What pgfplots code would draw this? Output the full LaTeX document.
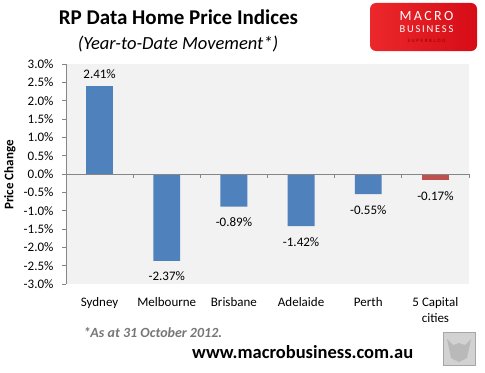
\documentclass[border=0pt]{standalone}
\usepackage{pgfplots}
\pgfplotsset{compat=1.18}
\usepackage{fontspec}
\setmainfont{Carlito}
\definecolor{barblue}{RGB}{79,129,189}
\definecolor{barred}{RGB}{192,80,77}
\definecolor{plotbg}{RGB}{242,242,242}
\definecolor{axgray}{RGB}{134,134,134}
\definecolor{notegray}{RGB}{118,118,118}
\definecolor{logoL}{RGB}{236,40,44}
\definecolor{logoR}{RGB}{214,12,22}
\begin{document}
\begin{tikzpicture}[x=1bp,y=1bp]
\path[use as bounding box] (0,0) rectangle (485,372);
\begin{axis}[
  at={(66bp,88bp)}, anchor=south west,
  scale only axis, width=403bp, height=220bp,
  xmin=-0.5, xmax=5.5, ymin=-3, ymax=3,
  axis background/.style={fill=plotbg},
  axis lines*=left,
  x axis line style={draw=none},
  y axis line style={draw=axgray, line width=0.8pt},
  xtick={0,...,5},
  xticklabels={Sydney,Melbourne,Brisbane,Adelaide,Perth,{5 Capital\\cities}},
  xtick style={draw=none},
  xticklabel style={align=center, font=\fontsize{13bp}{16bp}\selectfont, yshift=-6bp},
  ytick={-3,-2.5,...,3},
  yticklabel={\pgfmathprintnumber[fixed,fixed zerofill,precision=1]{\tick}\%},
  /pgf/number format/assume math mode=true,
  ytick style={draw=axgray, line width=0.8pt},
  tick align=outside, major tick length=4bp,
  yticklabel style={font=\fontsize{13bp}{15bp}\selectfont, xshift=-5bp},
  ylabel={\textbf{Price Change}},
  every axis y label/.style={at={(-56bp,109bp)}, rotate=90, anchor=center, font=\fontsize{13bp}{15bp}\selectfont},
  ybar, bar width=0.4, bar shift=0pt,
  nodes near coords={\pgfmathprintnumber[fixed,fixed zerofill,precision=2]{\pgfplotspointmeta}\%},
  every node near coord/.append style={font=\fontsize{13bp}{15bp}\selectfont, black, inner sep=5bp},
  clip=false,
]
\addplot[fill=barblue, draw=none, every node near coord/.append style={yshift=2bp}] coordinates {(0,2.41)};
\addplot[fill=barblue, draw=none, every node near coord/.append style={yshift=-6bp}] coordinates {(1,-2.37) (2,-0.89) (3,-1.42) (4,-0.55)};
\addplot[fill=barred, draw=none, every node near coord/.append style={yshift=-6bp}] coordinates {(5,-0.17)};
\draw[axgray, line width=0.8pt] (axis cs:-0.5,0) -- (axis cs:5.5,0);
\pgfplotsinvokeforeach{0.5,1.5,2.5,3.5,4.5,5.5}{
  \draw[axgray, line width=0.8pt] (axis cs:#1,0) -- ([yshift=-4bp]axis cs:#1,0);
}
\end{axis}
% titles
\node[font=\fontsize{21bp}{25bp}\selectfont\bfseries] at (178.5,355) {RP Data Home Price Indices};
\node[font=\fontsize{18.5bp}{22bp}\selectfont\itshape] at (178,328) {(Year-to-Date Movement*)};
% logo
\shade[left color=logoL, right color=logoR, rounded corners=6bp] (370,321) rectangle (477,369);
\node[white, font=\fontsize{14bp}{16bp}\selectfont] at (426.5,356) {M\,A\,C\,R\,O};
\node[white, font=\fontsize{10.5bp}{12bp}\selectfont] at (426.5,342.5) {B\,U\,S\,I\,N\,E\,S\,S};
\node[red!55!black, font=\fontsize{5bp}{6bp}\selectfont] at (426.5,331) {S\,\,U\,\,P\,\,E\,\,R\,\,B\,\,L\,\,O\,\,G};
% footnotes
\node[anchor=west, notegray, font=\fontsize{14bp}{16bp}\selectfont\bfseries\itshape] at (80,39) {*As at 31 October 2012.};
\node[anchor=west, inner sep=0pt, font=\fontsize{18.5bp}{22bp}\selectfont\bfseries] at (192,20) {www.macrobusiness.com.au};
% wolf picture placeholder
\fill[gray!35, draw=gray!70, line width=1pt] (443,7) rectangle (475,40);
\fill[gray!55] (451,14) -- (459,10) -- (467,14) -- (471,33) -- (465,27) -- (459,29) -- (453,27) -- (447,33) -- cycle;
\end{tikzpicture}
\end{document}
